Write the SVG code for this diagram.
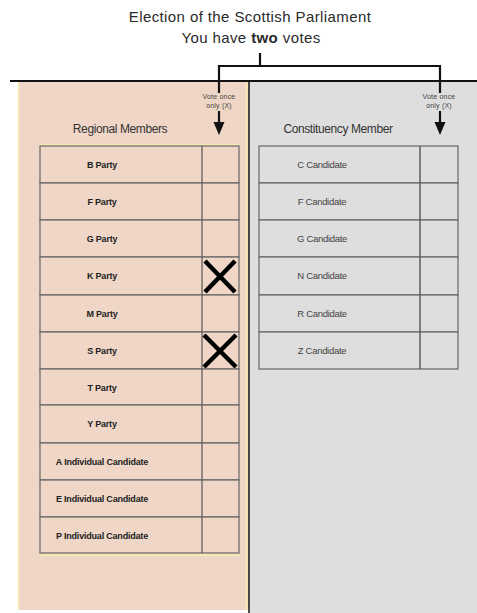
<svg xmlns="http://www.w3.org/2000/svg" width="477" height="613" viewBox="0 0 477 613">
<style>
.t{font-family:"Liberation Sans",Arial,sans-serif;fill:#222}
.title{font-size:15px;text-anchor:middle;letter-spacing:0.4px;fill:#2a2a2a}
.hd{font-size:12px;text-anchor:middle;fill:#333;letter-spacing:-0.4px}
.lt{font-size:9px;font-weight:bold;text-anchor:middle;fill:#222;letter-spacing:-0.2px}
.rt{font-size:9.5px;text-anchor:middle;fill:#444;letter-spacing:-0.3px}
.vt{font-size:7px;text-anchor:middle;fill:#444;letter-spacing:0.2px}
.lrow{fill:#efd6c6;stroke:#666;stroke-width:1.2}
.rrow{fill:#dedede;stroke:#666;stroke-width:1.2}
.hl{stroke:#f6efb0;stroke-width:1.5}
.x{stroke:#000;stroke-width:4.5;stroke-linecap:butt}
.c{stroke:#111;stroke-width:2.2;fill:none}
</style>
<rect width="477" height="613" fill="#fff"/>
<g id="title">
<text class="t title" x="250" y="22">Election of the Scottish Parliament</text>
<text class="t title" x="251" y="43">You have <tspan font-weight="bold">two</tspan> votes</text>
</g>
<g id="right-panel">
<rect x="249" y="81" width="228" height="532" fill="#dedede"/>
<text class="t hd" x="338" y="133">Constituency Member</text>
<text class="t vt" x="439" y="99">Vote once</text>
<text class="t vt" x="439" y="108">only (X)</text>
</g>
<g id="left-panel">
<rect x="18" y="81" width="231" height="529" fill="#efd6c6"/>
<line x1="18.5" y1="82" x2="18.5" y2="610" stroke="#f6efb0" stroke-width="1.2"/>
<line x1="246.5" y1="82" x2="246.5" y2="610" stroke="#f6efb0" stroke-width="1.5"/>
<line x1="249" y1="81" x2="249" y2="613" stroke="#222" stroke-width="1.6"/>
<text class="t hd" x="120" y="133">Regional Members</text>
<text class="t vt" x="219" y="99">Vote once</text>
<text class="t vt" x="219" y="108">only (X)</text>
</g>
<line x1="10" y1="81" x2="477" y2="81" stroke="#111" stroke-width="2.2"/>
<g id="left-table">
<g class="hlines">
<line class="hl" x1="40" y1="145" x2="239" y2="145"/>
<line class="hl" x1="40" y1="182" x2="239" y2="182"/>
<line class="hl" x1="40" y1="219" x2="239" y2="219"/>
<line class="hl" x1="40" y1="256" x2="239" y2="256"/>
<line class="hl" x1="40" y1="294" x2="239" y2="294"/>
<line class="hl" x1="40" y1="331" x2="239" y2="331"/>
<line class="hl" x1="40" y1="368" x2="239" y2="368"/>
<line class="hl" x1="40" y1="404" x2="239" y2="404"/>
<line class="hl" x1="40" y1="442" x2="239" y2="442"/>
<line class="hl" x1="40" y1="479" x2="239" y2="479"/>
<line class="hl" x1="40" y1="516" x2="239" y2="516"/>
<line class="hl" x1="40" y1="555" x2="239" y2="555"/>
</g>
<g id="row-b"><rect class="lrow" x="40" y="146" width="199" height="37"/><line x1="202" y1="146" x2="202" y2="183" stroke="#555" stroke-width="1.2"/><text class="t lt" x="102" y="167.5">B Party</text></g>
<g id="row-f"><rect class="lrow" x="40" y="183" width="199" height="37"/><line x1="202" y1="183" x2="202" y2="220" stroke="#555" stroke-width="1.2"/><text class="t lt" x="102" y="204.5">F Party</text></g>
<g id="row-g"><rect class="lrow" x="40" y="220" width="199" height="37"/><line x1="202" y1="220" x2="202" y2="257" stroke="#555" stroke-width="1.2"/><text class="t lt" x="102" y="241.5">G Party</text></g>
<g id="row-k"><rect class="lrow" x="40" y="257" width="199" height="38"/><line x1="202" y1="257" x2="202" y2="295" stroke="#555" stroke-width="1.2"/><text class="t lt" x="102" y="278.5">K Party</text>
<line class="x" x1="205" y1="261" x2="235" y2="292"/><line class="x" x1="235" y1="261" x2="205" y2="292"/></g>
<g id="row-m"><rect class="lrow" x="40" y="295" width="199" height="37"/><line x1="202" y1="295" x2="202" y2="332" stroke="#555" stroke-width="1.2"/><text class="t lt" x="102" y="316.5">M Party</text></g>
<g id="row-s"><rect class="lrow" x="40" y="332" width="199" height="37"/><line x1="202" y1="332" x2="202" y2="369" stroke="#555" stroke-width="1.2"/><text class="t lt" x="102" y="353.5">S Party</text>
<line class="x" x1="204" y1="335" x2="236" y2="367"/><line class="x" x1="236" y1="335" x2="204" y2="367"/></g>
<g id="row-t"><rect class="lrow" x="40" y="369" width="199" height="36"/><line x1="202" y1="369" x2="202" y2="405" stroke="#555" stroke-width="1.2"/><text class="t lt" x="102" y="390.5">T Party</text></g>
<g id="row-y"><rect class="lrow" x="40" y="405" width="199" height="38"/><line x1="202" y1="405" x2="202" y2="443" stroke="#555" stroke-width="1.2"/><text class="t lt" x="102" y="426.5">Y Party</text></g>
<g id="row-a"><rect class="lrow" x="40" y="443" width="199" height="37"/><line x1="202" y1="443" x2="202" y2="480" stroke="#555" stroke-width="1.2"/><text class="t lt" x="102" y="464.5">A Individual Candidate</text></g>
<g id="row-e"><rect class="lrow" x="40" y="480" width="199" height="37"/><line x1="202" y1="480" x2="202" y2="517" stroke="#555" stroke-width="1.2"/><text class="t lt" x="102" y="501.5">E Individual Candidate</text></g>
<g id="row-p"><rect class="lrow" x="40" y="517" width="199" height="36"/><line x1="202" y1="517" x2="202" y2="553" stroke="#555" stroke-width="1.2"/><text class="t lt" x="102" y="538.5">P Individual Candidate</text></g>
</g>
<g id="right-table">
<g id="row-c"><rect class="rrow" x="259" y="146" width="199" height="37"/><line x1="420" y1="146" x2="420" y2="183" stroke="#555" stroke-width="1.4"/><text class="t rt" x="322" y="167.5">C Candidate</text></g>
<g id="row-fc"><rect class="rrow" x="259" y="183" width="199" height="37"/><line x1="420" y1="183" x2="420" y2="220" stroke="#555" stroke-width="1.4"/><text class="t rt" x="322" y="204.5">F Candidate</text></g>
<g id="row-gc"><rect class="rrow" x="259" y="220" width="199" height="37"/><line x1="420" y1="220" x2="420" y2="257" stroke="#555" stroke-width="1.4"/><text class="t rt" x="322" y="241.5">G Candidate</text></g>
<g id="row-nc"><rect class="rrow" x="259" y="257" width="199" height="38"/><line x1="420" y1="257" x2="420" y2="295" stroke="#555" stroke-width="1.4"/><text class="t rt" x="322" y="278.5">N Candidate</text></g>
<g id="row-rc"><rect class="rrow" x="259" y="295" width="199" height="37"/><line x1="420" y1="295" x2="420" y2="332" stroke="#555" stroke-width="1.4"/><text class="t rt" x="322" y="316.5">R Candidate</text></g>
<g id="row-zc"><rect class="rrow" x="259" y="332" width="199" height="37"/><line x1="420" y1="332" x2="420" y2="369" stroke="#555" stroke-width="1.4"/><text class="t rt" x="322" y="353.5">Z Candidate</text></g>
</g>
<g id="connectors">
<path class="c" d="M260 53 V66 M219 66 H440 M219 65 V93 M440 65 V93"/>
<line class="c" x1="219" y1="111" x2="219" y2="124" stroke-width="2.5"/>
<line class="c" x1="440" y1="111" x2="440" y2="124" stroke-width="2.5"/>
<polygon points="213.5,122 224.5,122 219,135" fill="#111"/>
<polygon points="434.5,122 445.5,122 440,135" fill="#111"/>
</g>
</svg>
